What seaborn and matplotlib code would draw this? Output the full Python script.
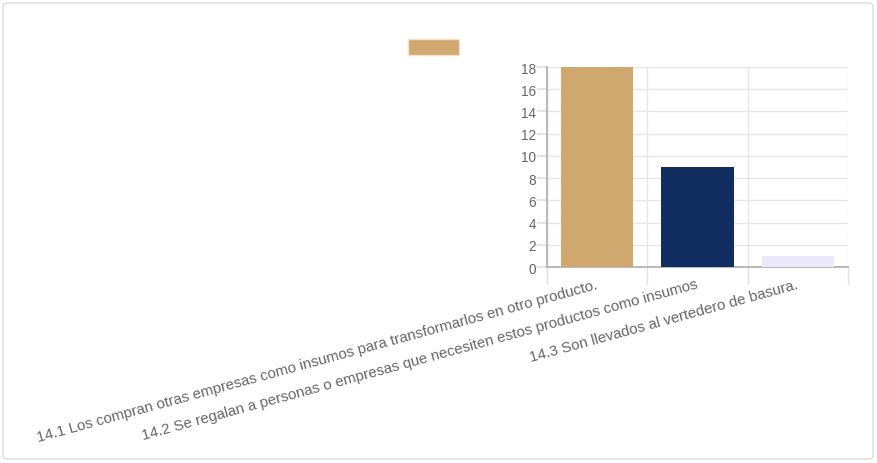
import matplotlib
matplotlib.use("Agg")
import matplotlib.pyplot as plt
import seaborn as sns
import pandas as pd
from matplotlib.patches import FancyBboxPatch, Rectangle

categories = [
    "14.1 Los compran otras empresas como insumos para transformarlos en otro producto.",
    "14.2 Se regalan a personas o empresas que necesiten estos productos como insumos",
    "14.3 Son llevados al vertedero de basura.",
]
values = [18, 9, 1]
colors = ["#D0A86F", "#112E60", "#ECE8FB"]
yticks = [0, 2, 4, 6, 8, 10, 12, 14, 16, 18]

sns.set_theme(style="white")
plt.rcParams["font.family"] = ["Liberation Sans", "DejaVu Sans"]

fig = plt.figure(figsize=(8.77, 4.64), dpi=100)
fig.patch.set_facecolor("white")

card = FancyBboxPatch((3 / 877, 4 / 464), 870 / 877, 456 / 464,
                      boxstyle="round,pad=0,rounding_size=0.006",
                      transform=fig.transFigure, facecolor="white",
                      edgecolor="#dcdcdc", linewidth=1.0, zorder=-5)
fig.patches.append(card)

ax = fig.add_axes([547 / 877, 1 - 268 / 464, 301 / 877, 200 / 464])
ax.set_zorder(1)
ax.patch.set_alpha(0)
df = pd.DataFrame({"cat": categories, "val": values})
sns.barplot(data=df, x="cat", y="val", hue="cat", palette=colors,
            width=0.72, legend=False, ax=ax, saturation=1,
            edgecolor="none", zorder=3)

ax.set_xlim(-0.5, 2.5)
ax.set_ylim(0, 18)
ax.set_yticks(yticks)
ax.set_xlabel("")
ax.set_ylabel("")

# grid
ax.set_xticks([-0.5, 0.5, 1.5, 2.5], minor=True)
ax.grid(True, axis="y", which="major", color="#e6e6e6", linewidth=1, zorder=0)
ax.grid(True, axis="x", which="minor", color="#e6e6e6", linewidth=1, zorder=0)
ax.set_axisbelow(True)

for side in ["top", "right"]:
    ax.spines[side].set_visible(False)
ax.spines["left"].set_color("#b0b0b0")
ax.spines["bottom"].set_color("#b0b0b0")

ax.tick_params(axis="y", which="major", length=7, color="#e0e0e0",
               labelsize=9.8, labelcolor="#666666", pad=1, left=True)
ax.tick_params(axis="x", which="minor", length=12, color="#e0e0e0",
               bottom=True)
ax.tick_params(axis="x", which="major", length=0, pad=12,
               labelsize=10.8, labelcolor="#666666")
for lab in ax.get_xticklabels():
    lab.set_rotation(15.3)
    lab.set_ha("right")
    lab.set_va("center")
    lab.set_rotation_mode("anchor")

# legend swatch (no label text)
fig.patches.append(Rectangle((408 / 877, 1 - 56 / 464), 51 / 877, 16 / 464,
                             transform=fig.transFigure, facecolor=colors[0],
                             edgecolor="#f0e2cc", linewidth=1, zorder=2))

fig.savefig("out.png", dpi=100, facecolor="white")
